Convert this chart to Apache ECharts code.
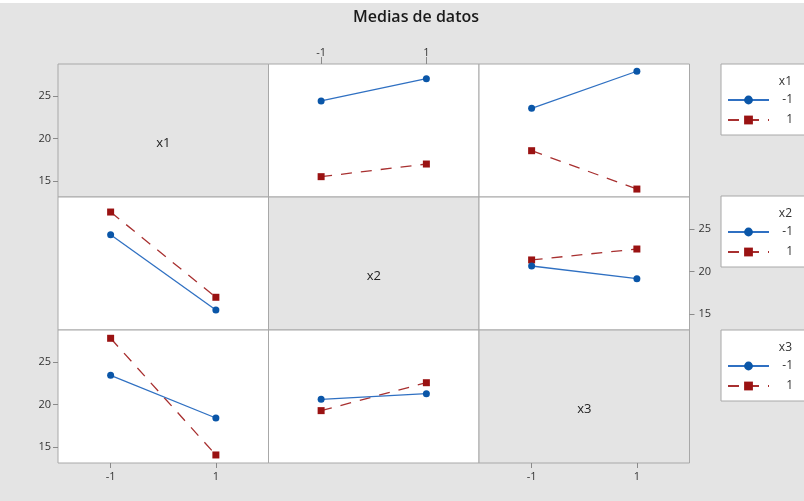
<!DOCTYPE html>
<html>
<head>
<meta charset="utf-8">
<script src="https://cdn.jsdelivr.net/npm/echarts@6/dist/echarts.min.js"></script>
<style>html,body{margin:0;padding:0;background:#e4e4e4;}#c{width:804px;height:501px;}</style>
</head>
<body>
<div id="c"></div>
<script>
// Categories (factor levels)
var levels = ['-1', '1'];
var factors = ['x1', 'x2', 'x3'];
var yTicks = [15, 20, 25];
// Panel values: lines = row factor, x axis = column factor
var x1m_x2 = [24.39, 27.0],  x1p_x2 = [15.53, 17.01];   // row x1, col x2
var x1m_x3 = [23.53, 27.87], x1p_x3 = [18.57, 14.08];   // row x1, col x3
var x2m_x1 = [24.31, 15.49], x2p_x1 = [26.96, 16.98];   // row x2, col x1
var x2m_x3 = [20.64, 19.16], x2p_x3 = [21.35, 22.63];   // row x2, col x3
var x3m_x1 = [23.42, 18.42], x3p_x1 = [27.75, 14.09];   // row x3, col x1
var x3m_x2 = [20.61, 21.27], x3p_x2 = [19.28, 22.55];   // row x3, col x2

var panels = {
  1: [x1m_x2, x1p_x2], 2: [x1m_x3, x1p_x3],
  3: [x2m_x1, x2p_x1], 5: [x2m_x3, x2p_x3],
  6: [x3m_x1, x3p_x1], 7: [x3m_x2, x3p_x2]
};

var BLUE = '#0a56a8', BLUE_L = '#2f70c2', RED = '#9a1212', RED_L = '#a83030';
var FONT = 'Open Sans';
var GL = 58, GT = 64, GW = 210.5, GH = 133;
var YMIN = 13.15, YMAX = 28.72;

var grids = [], xAxes = [], yAxes = [], series = [], graphics = [];
var xLab = {1: 'top', 6: 'bottom', 8: 'bottom'};
var yLab = {0: 'left', 6: 'left', 5: 'right'};

for (var r = 0; r < 3; r++) {
  for (var c = 0; c < 3; c++) {
    var i = r * 3 + c;
    grids.push({
      left: GL + c * GW, top: GT + r * GH, width: GW, height: GH,
      show: true, backgroundColor: r === c ? '#e4e4e4' : '#ffffff',
      borderColor: '#a8a8a8', borderWidth: 1, containLabel: false
    });
    var xs = !!xLab[i];
    var isTop = xLab[i] === 'top';
    xAxes.push({
      type: 'category', data: levels, gridIndex: i, boundaryGap: true,
      position: xLab[i] || 'bottom',
      axisLine: {show: false},
      axisTick: {show: xs, alignWithLabel: true, length: isTop ? 7 : 5, lineStyle: {color: '#8a8a8a'}},
      axisLabel: {show: xs, margin: isTop ? 6 : 8, fontSize: 11, color: '#333', fontFamily: FONT},
      splitLine: {show: false}
    });
    var ys = !!yLab[i];
    yAxes.push({
      type: 'value', gridIndex: i, min: YMIN, max: YMAX,
      position: yLab[i] || 'left',
      axisLine: {show: false},
      axisTick: {show: ys, length: 5, customValues: yTicks, lineStyle: {color: '#8a8a8a'}},
      axisLabel: {show: ys, margin: yLab[i] === 'right' ? 9 : 7, fontSize: 11, color: '#333', fontFamily: FONT,
        customValues: yTicks},
      splitLine: {show: false}
    });
    if (r === c) {
      graphics.push({
        type: 'text', x: GL + c * GW + GW / 2, y: GT + r * GH + GH / 2 + 13, z: 100,
        style: {text: factors[r], font: '13px "' + FONT + '"', fill: '#222',
          textAlign: 'center', textVerticalAlign: 'middle'}
      });
    }
    if (panels[i]) {
      series.push({
        name: '-1', type: 'line', xAxisIndex: i, yAxisIndex: i, data: panels[i][0],
        symbol: 'circle', symbolSize: 7, itemStyle: {color: BLUE},
        lineStyle: {color: BLUE_L, width: 1.3}, z: 3
      });
      series.push({
        name: '1', type: 'line', xAxisIndex: i, yAxisIndex: i, data: panels[i][1],
        symbol: 'rect', symbolSize: 7, itemStyle: {color: RED},
        lineStyle: {color: RED_L, width: 1.3, type: [11, 9]}, z: 2
      });
    }
  }
}

var legends = [];
var legendTops = [64, 196, 330];
for (var k = 0; k < 3; k++) {
  legends.push({
    orient: 'vertical', left: 721, top: legendTops[k], data: levels,
    padding: [30, 40, 9, 6], itemGap: 8, itemWidth: 41, itemHeight: 11,
    backgroundColor: '#ffffff', borderColor: '#a8a8a8', borderWidth: 1,
    selectedMode: false,
    formatter: '{a|{name}}',
    textStyle: {fontFamily: FONT, fontSize: 12, color: '#333',
      rich: {a: {width: 19, align: 'right', fontSize: 12, fontFamily: FONT, color: '#333'}}}
  });
  graphics.push({
    type: 'text', x: 792, y: legendTops[k] + 18, z: 100,
    style: {text: factors[k], font: '12px "' + FONT + '"', fill: '#333',
      textAlign: 'right', textVerticalAlign: 'middle'}
  });
}

graphics.push({type: 'rect', shape: {x: 0, y: 0, width: 804, height: 3}, style: {fill: '#ffffff'}, z: 1});
graphics.push({
  type: 'text', x: 416, y: 17, z: 100,
  style: {text: 'Medias de datos', font: '600 16px "' + FONT + '"', fill: '#1a1a1a',
    textAlign: 'center', textVerticalAlign: 'middle'}
});

var chart = echarts.init(document.getElementById('c'));
chart.setOption({
  backgroundColor: '#e4e4e4',
  animation: false,
  grid: grids, xAxis: xAxes, yAxis: yAxes, series: series,
  legend: legends, graphic: graphics
});
</script>
</body>
</html>
